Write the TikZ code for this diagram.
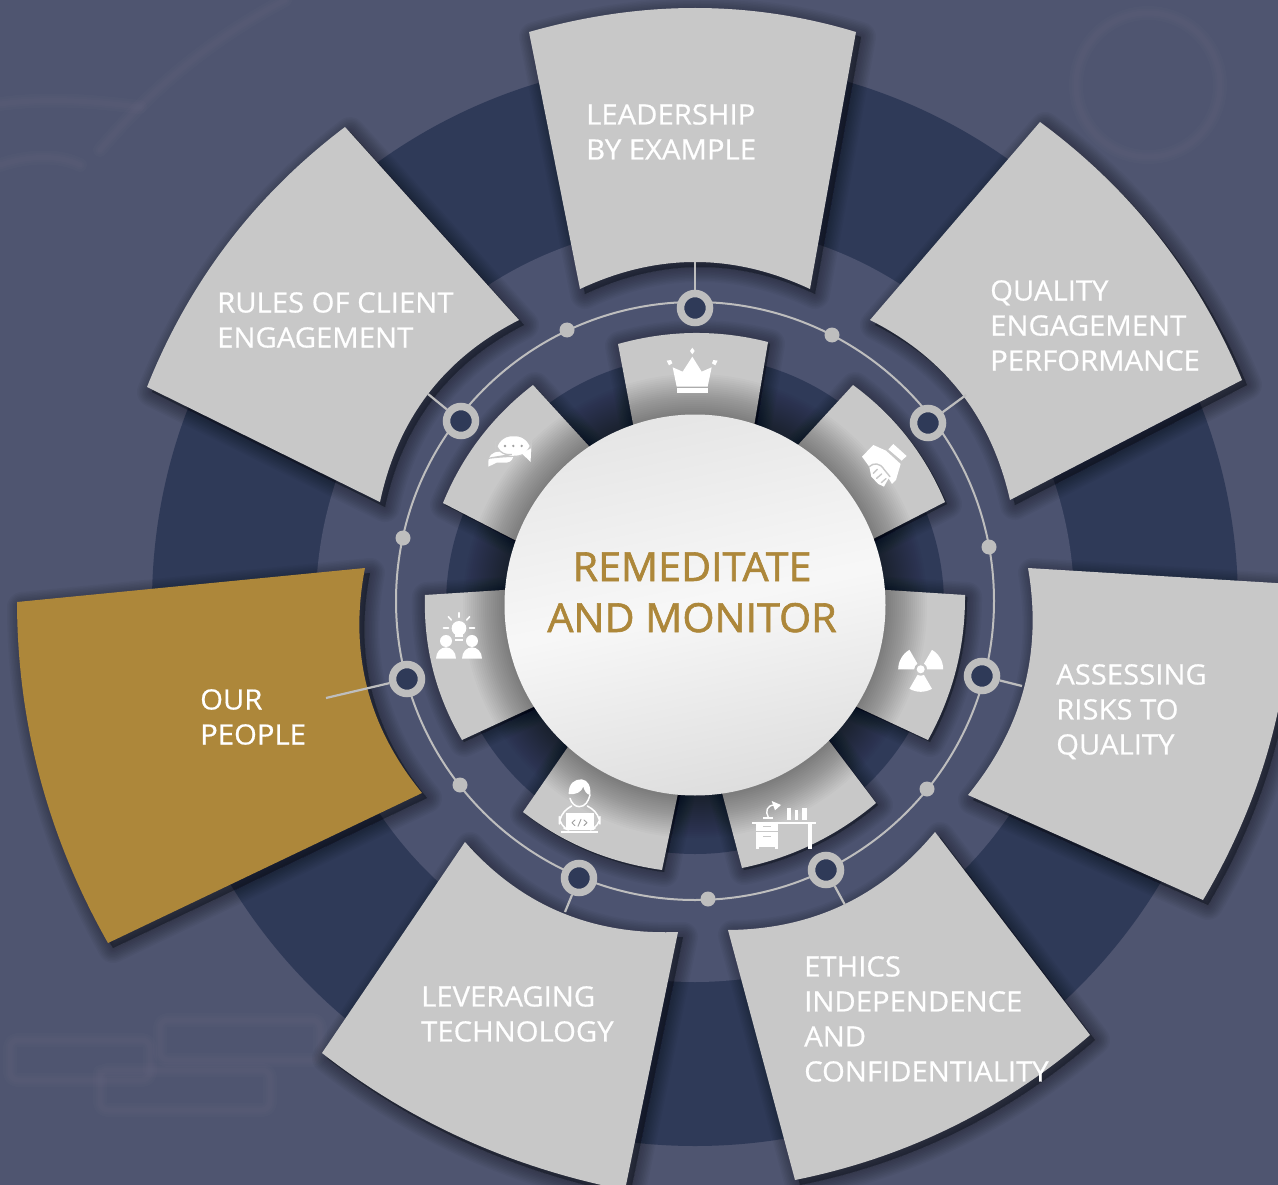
\documentclass[tikz,border=0pt]{standalone}
\usepackage{fontspec}
\setmainfont{Open Sans}
\newfontfamily\labfont[FakeBold=0.6,FakeStretch=1.045]{Open Sans}
\newfontfamily\ttlfont[FakeBold=1.5,FakeStretch=1.03]{Open Sans}
\usetikzlibrary{calc}
\definecolor{bgc}{HTML}{4F5570}
\definecolor{midc}{HTML}{4C5370}
\definecolor{darkc}{HTML}{2F3A58}
\definecolor{greyc}{HTML}{C8C8C8}
\definecolor{ringc}{HTML}{BEBEBE}
\definecolor{goldc}{HTML}{AD873A}
\definecolor{icong}{HTML}{A0A0A0}
\tikzset{
  label/.style={anchor=north west,inner sep=0pt,align=left,text=white,font=\labfont\fontsize{28}{35}\selectfont},
  title/.style={anchor=base,inner sep=0pt,text=goldc,font=\ttlfont\fontsize{40}{40}\selectfont},
  hub/.style={circle,draw=ringc,fill=darkc,line width=7.5pt,minimum size=29pt,inner sep=0pt},
  dot/.style={circle,fill=ringc,minimum size=15pt,inner sep=0pt},
  stub/.style={draw=ringc,line width=2.2pt},
  faint/.style={draw=white,opacity=.012,line cap=round,line join=round},
  ic/.style={fill=white,draw=none},
  icl/.style={draw=white,line cap=round,line join=round}
}
% a petal: corners a,b,c,d with bulge points m (a-b) and n (c-d)
\newcommand\petaldef[7]{%
  \coordinate (#1a) at (#2);\coordinate (#1m) at (#3);\coordinate (#1b) at (#4);
  \coordinate (#1c) at (#5);\coordinate (#1n) at (#6);\coordinate (#1d) at (#7);}
\newcommand\petalpath[1]{(#1a) .. controls ($1.3333*(#1m)-.3333*(#1b)$) and ($1.3333*(#1m)-.3333*(#1a)$) .. (#1b)
  -- (#1c) .. controls ($1.3333*(#1n)-.3333*(#1d)$) and ($1.3333*(#1n)-.3333*(#1c)$) .. (#1d) -- cycle}
\newcommand\petalshadow[2]{%
  \foreach \w in {3,6,...,30}{%
    \path[transform canvas={shift={(#2pt,-#2pt)}},draw=black,fill=black,opacity=.032,line join=round,line width=\w pt] \petalpath{#1};}}
\begin{document}
\begin{tikzpicture}[x=1pt,y=-1pt]
\useasboundingbox (0,0) rectangle (1278,1185);
\clip (0,0) rectangle (1278,1185);
\fill[bgc] (0,0) rectangle (1278,1185);
% faint background picture
\foreach \w in {5,9,14}{
  \draw[faint,line width=\w pt] (1148,85) circle[radius=72];
  \draw[faint,line width=\w pt] (0,104) .. controls (60,96) and (110,104) .. (140,107);
  \draw[faint,line width=\w pt] (100,150) .. controls (150,90) and (210,40) .. (285,0);
  \draw[faint,line width=\w pt] (0,165) .. controls (30,155) and (60,155) .. (80,165);
  \draw[faint,line width=\w pt,rounded corners=8pt] (160,1040) -- (160,1020) -- (320,1020) -- (320,1060) -- (160,1060) -- cycle;
  \draw[faint,line width=\w pt,rounded corners=8pt] (100,1080) -- (100,1110) -- (270,1110) -- (270,1070) -- (100,1070) -- cycle;
  \draw[faint,line width=\w pt,rounded corners=8pt] (10,1040) -- (150,1040) -- (150,1080) -- (10,1080) -- cycle;
}
% rings
\fill[darkc] (695,603) circle[radius=543];
\fill[midc] (695,603) circle[radius=379];
\fill[darkc] (695,605) circle[radius=249];

% petal geometry
\petaldef{s1}{618,344}{693,333}{768,342}{748,463}{694,463}{640,461}
\petaldef{s2}{853,385}{907,437}{945,502}{840,556}{810,510}{775,470}
\petaldef{s3}{965,595}{956,670}{928,740}{825,692}{835,640}{840,587}
\petaldef{s4}{876,803}{813,844}{742,868}{712,755}{760,735}{805,709}
\petaldef{s5}{662,870}{588,850}{523,812}{590,715}{640,740}{686,755}
\petaldef{s6}{462,740}{433,670}{425,595}{550,587}{555,640}{570,690}
\petaldef{s7}{443,503}{480,438}{533,385}{610,469}{575,510}{540,553}
\petaldef{p1}{529,32}{695,8}{856,32}{810,289}{695,262}{580,289}
\petaldef{p2}{1040,122}{1159,237}{1242,380}{1010,500}{961,393}{870,320}
\petaldef{p3}{1292,584}{1269,747}{1203,900}{968,795}{1024,688}{1028,568}
\petaldef{p4}{1090,1035}{952,1127}{795,1180}{728,930}{843,905}{935,832}
\petaldef{p5}{625,1190}{464,1139}{322,1053}{465,842}{560,912}{678,932}
\petaldef{p6}{108,943}{40,778}{17,602}{365,568}{367,687}{422,793}
\petaldef{p7}{147,387}{228,243}{345,127}{519,320}{428,394}{380,502}

% inner circle line
\draw[ringc,line width=2pt] (695,601) circle[radius=299];

% small petals
\foreach \n in {s1,s2,s3,s4,s5,s6,s7}{\petalshadow{\n}{2}}
\foreach \n in {s1,s2,s3,s4,s5,s6,s7}{\fill[greyc] \petalpath{\n};}
% large petals
\foreach \n in {p1,p2,p3,p4,p5,p6,p7}{\petalshadow{\n}{5}}
\foreach \n in {p1,p2,p3,p4,p5,p7}{\fill[greyc] \petalpath{\n};}
\fill[goldc] \petalpath{p6};

% hubs and dots
\node[hub] (h1) at (695,308) {};
\node[hub] (h2) at (928,423) {};
\node[hub] (h3) at (982,676) {};
\node[hub] (h4) at (826,870) {};
\node[hub] (h5) at (579,878) {};
\node[hub] (h6) at (407,679) {};
\node[hub] (h7) at (461,421) {};
\node[dot] (d1) at (832,335) {};
\node[dot] (d2) at (989,547) {};
\node[dot] (d3) at (927,789) {};
\node[dot] (d4) at (708,899) {};
\node[dot] (d5) at (460,785) {};
\node[dot] (d6) at (403,538) {};
\node[dot] (d7) at (567,330) {};
\coordinate (e1) at (695,262);
\coordinate (e2) at (966,395);
\coordinate (e3) at (1022,686);
\coordinate (e4) at (845,905);
\coordinate (e5) at (565,912);
\coordinate (e6) at (326,698);
\coordinate (e7) at (428,394);
\foreach \i in {1,...,7}{\draw[stub] (e\i) -- (h\i);}

% disc shadow
\foreach \r in {192,194,...,232}{\fill[black,opacity=.019] (695,606) circle[radius=\r];}
% disc
\shade[top color=white!90!black,bottom color=white!87!black,middle color=white!97!black,shading angle=12] (695,605) circle[radius=190.5];
\node[title] (t1) at (692,581) {REMEDITATE};
\node[title] (t2) at (692,632) {AND MONITOR};

% labels
\node[label] (l1) at (586,104) {LEADERSHIP\\BY EXAMPLE};
\node[label] (l2) at (990,280) {QUALITY\\ENGAGEMENT\\PERFORMANCE};
\node[label] (l3) at (1056,664) {ASSESSING\\RISKS TO\\QUALITY};
\node[label] (l4) at (804,956) {ETHICS\\INDEPENDENCE\\AND\\CONFIDENTIALITY};
\node[label] (l5) at (421,986) {LEVERAGING\\TECHNOLOGY};
\node[label] (l6) at (200,689) {OUR\\PEOPLE};
\node[label] (l7) at (217,292) {RULES OF CLIENT\\ENGAGEMENT};

% crown
\begin{scope}[shift={(660,330)},x=.3333pt,y=-.3333pt]
  \fill[ic] (50,170) -- (38,112) -- (68,125) -- (97,80) -- (125,125) -- (155,112) -- (143,170) -- cycle;
  \fill[ic] (50,175) rectangle (145,190);
  \fill[ic] (97,53) -- (104,63) -- (97,73) -- (90,63) -- cycle;
  \fill[ic] (20,92) -- (33,90) -- (37,100) -- (27,106) -- cycle;
  \fill[ic] (173,92) -- (160,90) -- (156,100) -- (166,106) -- cycle;
\end{scope}
% chat
\begin{scope}[shift={(400,330)},x=.3333pt,y=-.3333pt]
  \fill[ic] (300,365) .. controls (275,365) and (265,380) .. (265,395) -- (265,410) -- (290,398) -- (320,398) .. controls (335,396) and (340,385) .. (340,375) -- cycle;
  \path[ic,draw=greyc,line width=1.2pt,rounded corners=16pt] (288,381) -- (288,317) -- (394,317) -- (394,379) -- (300,379) -- cycle;
  \fill[ic] (365,370) -- (392,396) -- (393,355) -- cycle;
  \foreach \x in {315,340,365}{\fill[icong] (\x,348) circle[radius=4];}
\end{scope}
% handshake
\begin{scope}[shift={(660,330)},x=.3333pt,y=-.3333pt]
  \fill[ic] (700,342) -- (740,378) -- (725,392) -- (685,358) -- cycle;
  \fill[ic] (606,380) -- (640,345) -- (678,362) -- (722,402) -- (708,450) -- (696,462) -- (686,445) -- (672,470) -- (655,462) -- (634,440) -- (628,410) -- cycle;
  \draw[greyc,line width=1.4pt,line cap=round] (628,410) .. controls (640,398) and (660,398) .. (672,418) -- (690,440);
  \draw[greyc,line width=1.4pt,line cap=round] (640,430) -- (652,418) (650,445) -- (665,432) (664,458) -- (678,446);
\end{scope}
% radiation
\begin{scope}[shift={(920.7,669.3)},y=1pt]
  \foreach \a in {0,120,240}{
    \fill[ic] (\a:6.5) -- (\a:22.5) arc[start angle=\a,end angle=\a+60,radius=22.5] -- ({\a+60}:6.5) arc[start angle=\a+60,end angle=\a,radius=6.5] -- cycle;}
  \fill[ic] (0,0) circle[radius=4];
\end{scope}
% desk
\begin{scope}[shift={(720,590)},x=.3333pt,y=-.3333pt]
  \fill[ic] (97,695) rectangle (287,703);
  \fill[ic] (108,703) rectangle (175,777);
  \fill[ic] (265,703) rectangle (275,777);
  \fill[greyc] (108,722) rectangle (175,727);
  \fill[greyc] (117,770) rectangle (165,777);
  \fill[greyc] (130,708) rectangle (152,712);
  \fill[greyc] (130,738) rectangle (152,742);
  \fill[ic] (130,680) rectangle (160,688);
  \draw[icl,line width=1.4pt] (145,682) .. controls (135,665) and (140,645) .. (165,645);
  \fill[ic] (155,633) -- (183,645) -- (165,661) -- cycle;
  \fill[ic] (201,655) rectangle (212,690);
  \fill[ic] (224,660) rectangle (234,690);
  \fill[ic] (246,655) rectangle (262,690);
\end{scope}
% coder
\begin{scope}[shift={(400,590)},x=.3333pt,y=-.3333pt]
  \draw[icl,line width=1.5pt] (510,625) .. controls (515,640) and (525,650) .. (538,650) .. controls (555,650) and (565,635) .. (570,615);
  \fill[ic] (506,612) .. controls (505,580) and (525,567) .. (545,568) .. controls (565,570) and (573,590) .. (571,615) .. controls (560,615) and (552,600) .. (550,590) .. controls (545,605) and (530,615) .. (506,612) -- cycle;
  \draw[icl,line width=1.5pt,rounded corners=10pt] (492,715) -- (478,710) -- (478,672) -- (515,648) (562,648) -- (600,672) -- (600,710) -- (585,715);
  \fill[ic] (497,670) rectangle (582,720);
  \fill[ic] (483,722) rectangle (595,728);
  \draw[icong,line width=.9pt,line cap=round,line join=round] (525,690) -- (516,698) -- (525,707) (552,690) -- (561,698) -- (552,707) (543,688) -- (534,709);
\end{scope}
% people and bulb
\begin{scope}[shift={(400,590)},x=.3333pt,y=-.3333pt]
  \fill[ic] (177,115) circle[radius=22];
  \fill[ic] (166,130) rectangle (188,140);
  \fill[ic] (166,147) rectangle (188,152);
  \draw[icl,line width=1.6pt] (177,68) -- (177,82) (145,80) -- (154,90) (209,80) -- (200,90) (130,114) -- (146,114) (208,114) -- (224,114);
  \foreach \x in {138,216}{
    \fill[ic] (\x,153) circle[radius=18];
    \fill[ic] (\x-30,206) .. controls (\x-30,185) and (\x-15,172) .. (\x,172) .. controls (\x+15,172) and (\x+30,185) .. (\x+30,206) -- cycle;
  }
\end{scope}
\end{tikzpicture}
\end{document}
